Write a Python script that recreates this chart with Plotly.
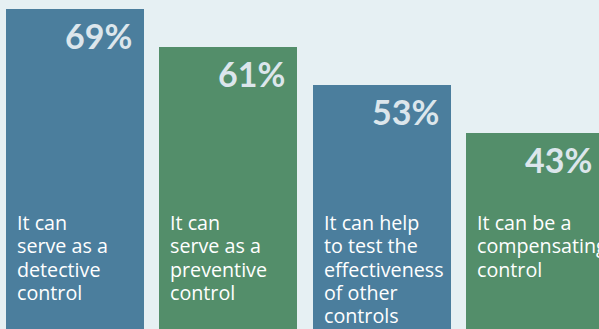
import plotly.graph_objects as go

categories = [["It can", "serve as a", "detective", "control"],
              ["It can", "serve as a", "preventive", "control"],
              ["It can help", "to test the", "effectiveness", "of other", "controls"],
              ["It can be a", "compensating", "control"]]
values = [69, 61, 53, 43]
colors = ["#4b7e9d", "#538e6a", "#4b7e9d", "#538e6a"]

H = 329
xs = list(range(len(values)))
fig = go.Figure()
fig.add_trace(go.Bar(x=xs, y=values, width=0.9, marker=dict(color=colors, line=dict(width=0)),
                     hoverinfo="skip"))

first_center_px = 222.4
line_step_px = 23.3
for i, (v, lines) in enumerate(zip(values, categories)):
    fig.add_annotation(x=i, y=v, xref="x", yref="y", text=f"{v}%",
                       showarrow=False, xanchor="right", yanchor="top",
                       xshift=59, yshift=-4,
                       font=dict(family="Lato", size=34, color="#dce6ec", weight="bold"))
    for k, line in enumerate(lines):
        ypx = first_center_px + k * line_step_px
        fig.add_annotation(x=i, y=1 - ypx / H, xref="x", yref="paper", text=line,
                           showarrow=False, xanchor="left", yanchor="middle", align="left",
                           xshift=-59, borderpad=0,
                           font=dict(family="Open Sans", size=19.7, color="#ffffff"))

fig.update_layout(
    width=599, height=H,
    margin=dict(l=0, r=0, t=0, b=0),
    paper_bgcolor="#e6f0f3", plot_bgcolor="#e6f0f3",
    showlegend=False, bargap=0,
    xaxis=dict(range=[-0.489, 3.417], visible=False, fixedrange=True),
    yaxis=dict(range=[1.68, 70.95], visible=False, fixedrange=True),
)
fig.write_html("out.html", config={"displayModeBar": False})
